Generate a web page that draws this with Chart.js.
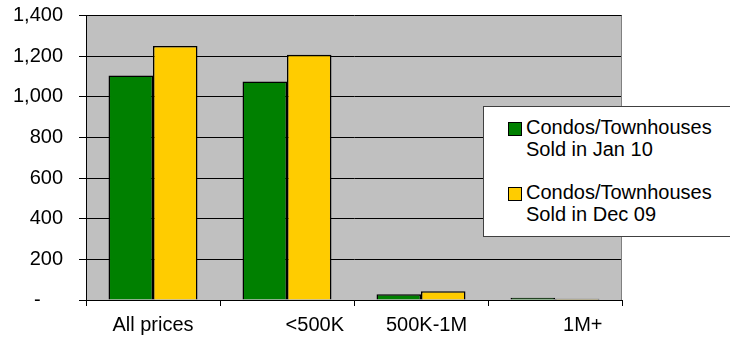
<!DOCTYPE html>
<html>
<head>
<meta charset="utf-8">
<script src="https://cdn.jsdelivr.net/npm/chart.js@4.4.0/dist/chart.umd.min.js"></script>
<style>
  body { margin: 0; background: #fff; overflow: hidden; }
  #wrap { position: relative; width: 730px; height: 340px; font-family: "Liberation Sans", Arial, sans-serif; }
  #legend { position: absolute; left: 483px; top: 106px; width: 260px; height: 129px; background: #fff; border: 1px solid #404040; }
  .sw { position: absolute; left: 24px; width: 12px; height: 12px; border: 1px solid #000; }
  .lt { position: absolute; left: 42px; font-size: 20px; line-height: 22px; color: #000; white-space: nowrap; }
</style>
</head>
<body>
<div id="wrap">
  <canvas id="barChart" width="730" height="340"></canvas>
  <div id="legend"></div>
</div>
<script>
// leading spaces come from the source sheet's labels
var categories = ['All prices', '          <500K', '  500K-1M', '          1M+'];
var soldJan10 = [1105, 1075, 28, 11];
var soldDec09 = [1250, 1207, 43, 6];
var seriesNames = [['Condos/Townhouses', 'Sold in Jan 10'], ['Condos/Townhouses', 'Sold in Dec 09']];
var seriesColors = ['#008000', '#FFCC00'];

var plotBg = {
    id: 'plotBg',
    beforeDraw: function (chart) {
        var a = chart.chartArea, c = chart.ctx;
        c.save();
        c.fillStyle = '#C0C0C0';
        c.fillRect(a.left, a.top, a.right - a.left, a.bottom - a.top);
        c.restore();
    },
    afterDraw: function (chart) {
        var a = chart.chartArea, c = chart.ctx;
        c.save();
        c.strokeStyle = '#808080';
        c.lineWidth = 1;
        c.beginPath();
        c.moveTo(a.right - 0.5, a.top);
        c.lineTo(a.right - 0.5, a.bottom);
        c.stroke();
        c.restore();
    }
};

var ctx = document.getElementById('barChart').getContext('2d');
var myChart = new Chart(ctx, {
    type: 'bar',
    data: {
        labels: categories,
        datasets: [{
            label: seriesNames[0].join(' '),
            data: soldJan10,
            backgroundColor: seriesColors[0],
            borderColor: '#000',
            borderWidth: 1.5
        }, {
            label: seriesNames[1].join(' '),
            data: soldDec09,
            backgroundColor: seriesColors[1],
            borderColor: '#000',
            borderWidth: 1.5
        }]
    },
    options: {
        responsive: false,
        animation: false,
        layout: { padding: { left: 0, right: 108, top: 15.5, bottom: 0 } },
        datasets: { bar: { categoryPercentage: 0.664, barPercentage: 1 } },
        plugins: { legend: { display: false }, tooltip: { enabled: false } },
        scales: {
            x: {
                afterFit: function (s) { s.height = 40; },
                grid: { drawOnChartArea: false, offset: true, tickLength: 6, color: '#000' },
                border: { color: '#000', width: 1 },
                ticks: {
                    color: '#000', maxRotation: 0, autoSkip: false, padding: 7,
                    font: { family: 'Liberation Sans', size: 20 }
                }
            },
            y: {
                min: 0, max: 1400,
                afterFit: function (s) { s.width = 86; s.paddingTop = 0; s.paddingBottom = 0; },
                grid: { color: '#000', tickLength: 7 },
                border: { color: '#000', width: 1 },
                ticks: {
                    stepSize: 200, color: '#000', padding: 16,
                    font: { family: 'Liberation Sans', size: 20 },
                    callback: function (v) { return v === 0 ? '-\u2007\u2007' : v.toLocaleString('en-US'); }
                }
            }
        }
    },
    plugins: [plotBg]
});

var legend = document.getElementById('legend');
seriesNames.forEach(function (lines, i) {
    var sw = document.createElement('div');
    sw.className = 'sw';
    sw.style.top = (15 + i * 65) + 'px';
    sw.style.background = seriesColors[i];
    legend.appendChild(sw);
    var t = document.createElement('div');
    t.className = 'lt';
    t.style.top = (9 + i * 65) + 'px';
    t.innerHTML = lines.join('<br>');
    legend.appendChild(t);
});
</script>
</body>
</html>
